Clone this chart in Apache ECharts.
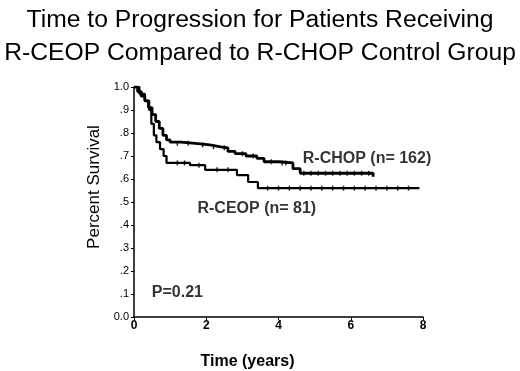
<!DOCTYPE html>
<html><head><meta charset="utf-8">
<script src="https://cdn.jsdelivr.net/npm/echarts@6/dist/echarts.min.js"></script>
<style>html,body{margin:0;padding:0;background:#fff}#c{width:520px;height:371px}</style>
</head><body><div id="c"></div>
<script>
// Data
const titleLines = ['Time to Progression for Patients Receiving', 'R-CEOP Compared to R-CHOP Control Group'];
const xTicks = [0, 2, 4, 6, 8];
const yTicks = [0, 0.1, 0.2, 0.3, 0.4, 0.5, 0.6, 0.7, 0.8, 0.9, 1.0];

const rchopT = [0, 0.1, 0.2, 0.3, 0.4, 0.5, 0.6, 0.7, 0.8, 0.9, 1.0, 1.3, 1.7, 2.1, 2.4, 2.6, 2.8, 3.1, 3.4, 3.6, 4.0, 4.4, 4.6, 6.62];
const rchopV = [1.0, 0.98, 0.96, 0.94, 0.91, 0.88, 0.85, 0.82, 0.79, 0.77, 0.76, 0.755, 0.748, 0.74, 0.735, 0.72, 0.71, 0.70, 0.69, 0.675, 0.67, 0.645, 0.625, 0.61];
const rceopT = [0, 0.15, 0.3, 0.42, 0.48, 0.55, 0.62, 0.72, 0.82, 0.9, 1.55, 1.97, 2.85, 3.16, 3.43, 7.9];
const rceopV = [1.0, 0.97, 0.94, 0.90, 0.84, 0.79, 0.76, 0.73, 0.70, 0.67, 0.66, 0.64, 0.617, 0.587, 0.56, 0.56];

const rchopCensorT = [1.2, 1.5, 1.9, 2.2, 2.5, 3.0, 3.3, 3.8, 4.1, 4.2, 4.7, 4.9, 5.1, 5.3, 5.5, 5.7, 5.9, 6.1, 6.3, 6.5];
const rchopCensorV = [0.755, 0.755, 0.748, 0.74, 0.735, 0.71, 0.70, 0.675, 0.67, 0.67, 0.625, 0.625, 0.625, 0.625, 0.625, 0.625, 0.625, 0.625, 0.625, 0.625];
const rceopCensorT = [1.2, 1.4, 1.8, 2.3, 2.6, 3.7, 4.0, 4.3, 4.6, 4.9, 5.2, 5.5, 5.8, 6.1, 6.4, 6.7, 7.0, 7.3, 7.6];
const rceopCensorV = [0.67, 0.67, 0.66, 0.64, 0.64, 0.56, 0.56, 0.56, 0.56, 0.56, 0.56, 0.56, 0.56, 0.56, 0.56, 0.56, 0.56, 0.56, 0.56];

const labels = [
  { text: 'R-CHOP (n= 162)', t: 6.45, v: 0.69 },
  { text: 'R-CEOP (n= 81)', t: 3.4, v: 0.47 },
  { text: 'P=0.21', t: 1.2, v: 0.105 }
];

const zip = (a, b) => a.map((x, i) => [x, b[i]]);
const chart = echarts.init(document.getElementById('c'));
const FONT = 'Liberation Sans, Arial, sans-serif';
chart.setOption({
  animation: false,
  backgroundColor: '#fff',
  title: [
    { text: titleLines[0], left: 'center', top: 3, textStyle: { fontFamily: FONT, fontSize: 24.7, fontWeight: 'normal', color: '#000' } },
    { text: titleLines[1], left: 'center', top: 36, textStyle: { fontFamily: FONT, fontSize: 24.7, fontWeight: 'normal', color: '#000' } }
  ],
  grid: { left: 134, right: 97, top: 87, bottom: 54, containLabel: false, outerBoundsMode: 'none' },
  xAxis: {
    type: 'value', min: 0, max: 8, interval: 2,
    name: 'Time (years)', nameLocation: 'middle', nameGap: 37,
    nameTextStyle: { fontFamily: FONT, fontSize: 16, fontWeight: 'bold', color: '#000', padding: [0, 62, 0, 0] },
    axisLine: { lineStyle: { color: '#000', width: 1.5 } },
    axisTick: { show: true, length: 3, inside: false, lineStyle: { color: '#000' } },
    axisLabel: { fontFamily: FONT, fontSize: 12, fontWeight: 'bold', color: '#000', margin: 3 },
    splitLine: { show: false }
  },
  yAxis: {
    type: 'value', min: 0, max: 1, interval: 0.1,
    name: 'Percent Survival', nameLocation: 'middle', nameGap: 30, nameRotate: 90,
    nameTextStyle: { fontFamily: FONT, fontSize: 17, color: '#000', padding: [0, 0, 0, 30] },
    axisLine: { show: true, lineStyle: { color: '#000', width: 1.5 } },
    axisTick: { show: true, length: 3, lineStyle: { color: '#000' } },
    axisLabel: {
      fontFamily: FONT, fontSize: 11, color: '#000', margin: 5,
      formatter: v => {
        const r = Math.round(v * 10);
        if (r === 10) return '1.0';
        if (r === 0) return '0.0';
        return '.' + r;
      }
    },
    splitLine: { show: false }
  },
  series: [
    { type: 'line', step: 'end', showSymbol: false, data: zip(rchopT, rchopV), lineStyle: { color: '#000', width: 2.8 } },
    { type: 'line', step: 'end', showSymbol: false, data: zip(rceopT, rceopV), lineStyle: { color: '#000', width: 2.2 } },
    { type: 'scatter', symbol: 'rect', symbolSize: [1.5, 5], data: zip(rchopCensorT, rchopCensorV), itemStyle: { color: '#000' } },
    { type: 'scatter', symbol: 'rect', symbolSize: [1.5, 5], data: zip(rceopCensorT, rceopCensorV), itemStyle: { color: '#000' } },
    {
      type: 'scatter', symbolSize: 0, data: labels.map(l => ({ value: [l.t, l.v], name: l.text })),
      label: { show: true, position: 'inside', formatter: p => p.name, fontFamily: FONT, fontSize: 16, fontWeight: 'bold', color: '#000' }
    }
  ]
});
</script></body></html>
